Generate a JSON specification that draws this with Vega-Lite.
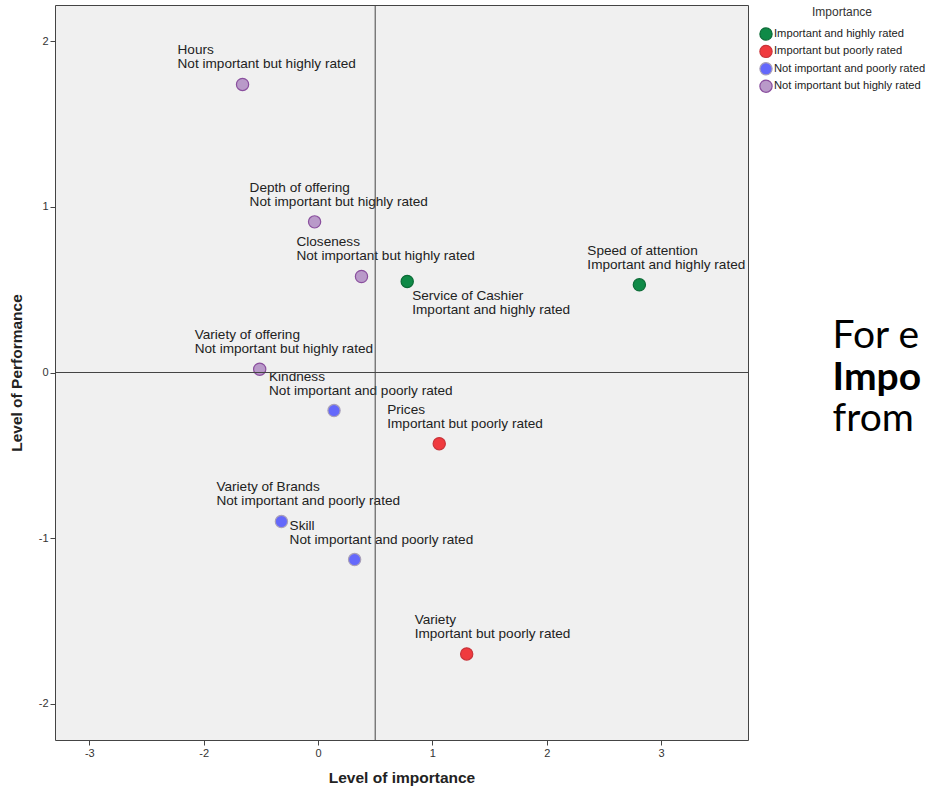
{
  "$schema": "https://vega.github.io/schema/vega-lite/v6.json",
  "autosize": {"type": "none"},
  "padding": {"left": 55, "top": 5, "right": 182, "bottom": 49},
  "width": 693,
  "height": 735,
  "background": "white",
  "config": {
    "view": {"fill": "#f0f0f0", "stroke": "#444444", "strokeWidth": 1},
    "font": "Liberation Sans",
    "axis": {
      "grid": false, "domain": false, "tickColor": "#444444", "tickSize": 5,
      "labelFont": "Liberation Sans", "labelFontSize": 11, "labelColor": "#333333",
      "titleFont": "Liberation Sans", "titleFontSize": 15.5, "titleFontWeight": "bold", "titleColor": "#222222"
    }
  },
  "datasets": {
    "points": [
      {"name": "Hours", "category": "Not important but highly rated", "importance": -0.66, "performance": 1.74},
      {"name": "Depth of offering", "category": "Not important but highly rated", "importance": -0.03, "performance": 0.91},
      {"name": "Closeness", "category": "Not important but highly rated", "importance": 0.38, "performance": 0.58},
      {"name": "Service of Cashier", "category": "Important and highly rated", "importance": 0.78, "performance": 0.55},
      {"name": "Speed of attention", "category": "Important and highly rated", "importance": 2.81, "performance": 0.53},
      {"name": "Variety of offering", "category": "Not important but highly rated", "importance": -0.51, "performance": 0.02},
      {"name": "Kindness", "category": "Not important and poorly rated", "importance": 0.14, "performance": -0.23},
      {"name": "Prices", "category": "Important but poorly rated", "importance": 1.06, "performance": -0.43},
      {"name": "Variety of Brands", "category": "Not important and poorly rated", "importance": -0.32, "performance": -0.9},
      {"name": "Skill", "category": "Not important and poorly rated", "importance": 0.32, "performance": -1.13},
      {"name": "Variety", "category": "Important but poorly rated", "importance": 1.3, "performance": -1.7}
    ],
    "slide": [
      {"text": "For e", "importance": 4.5, "performance": 0.151, "weight": "normal"},
      {"text": "Impo", "importance": 4.5, "performance": -0.103, "weight": "bold"},
      {"text": "from", "importance": 4.5, "performance": -0.356, "weight": "normal"}
    ],
    "vline": [{"importance": 0.5}],
    "hline": [{"performance": 0}]
  },
  "encoding": {
    "x": {
      "field": "importance", "type": "quantitative",
      "scale": {"domain": [-2.3, 3.76], "nice": false, "zero": false},
      "axis": {"values": [-2, -1, 0, 1, 2, 3], "labelExpr": "datum.value < 0 ? '' + (datum.value - 1) : '' + datum.value", "title": "Level of importance", "titlePadding": 12}
    },
    "y": {
      "field": "performance", "type": "quantitative",
      "scale": {"domain": [-2.22, 2.22], "nice": false, "zero": false},
      "axis": {"values": [-2, -1, 0, 1, 2], "labelExpr": "'' + datum.value", "title": "Level of Performance", "titlePadding": 14}
    }
  },
  "layer": [
    {
      "data": {"name": "points"},
      "mark": {"type": "point", "filled": true, "opacity": 1, "strokeWidth": 1.2, "size": 150},
      "encoding": {
        "color": {
          "field": "category", "type": "nominal",
          "scale": {
            "domain": ["Important and highly rated", "Important but poorly rated", "Not important and poorly rated", "Not important but highly rated"],
            "range": ["#0f8a47", "#f03a3e", "#6468fb", "#b99ac9"]
          },
          "legend": {
            "title": "Importance", "orient": "right", "offset": 9,
            "titleFont": "Liberation Sans", "titleFontSize": 12, "titleFontWeight": "normal", "titleColor": "#333333",
            "titleAnchor": "middle", "titlePadding": 8, "padding": 2,
            "labelFont": "Liberation Sans", "labelFontSize": 11.2, "labelColor": "#222222",
            "symbolType": "circle", "symbolSize": 150, "symbolStrokeWidth": 1.2, "labelOffset": 1, "rowPadding": -0.6
          }
        },
        "stroke": {
          "field": "category", "type": "nominal",
          "scale": {
            "domain": ["Important and highly rated", "Important but poorly rated", "Not important and poorly rated", "Not important but highly rated"],
            "range": ["#0b6b36", "#c9343a", "#a9a0b8", "#8a4f9e"]
          },
          "legend": null
        }
      }
    },
    {
      "data": {"name": "points"},
      "transform": [{"filter": "indexof(datum.category, 'Not') == 0"}],
      "layer": [
        {"mark": {"type": "text", "align": "left", "baseline": "middle", "dx": -65, "dy": -34, "fontSize": 13.6, "color": "#222222"}, "encoding": {"text": {"field": "name"}}},
        {"mark": {"type": "text", "align": "left", "baseline": "middle", "dx": -65, "dy": -20, "fontSize": 13.6, "color": "#222222"}, "encoding": {"text": {"field": "category"}}}
      ]
    },
    {
      "data": {"name": "points"},
      "transform": [{"filter": "indexof(datum.category, 'Important') == 0 && datum.name != 'Service of Cashier'"}],
      "layer": [
        {"mark": {"type": "text", "align": "left", "baseline": "middle", "dx": -52, "dy": -34, "fontSize": 13.6, "color": "#222222"}, "encoding": {"text": {"field": "name"}}},
        {"mark": {"type": "text", "align": "left", "baseline": "middle", "dx": -52, "dy": -20, "fontSize": 13.6, "color": "#222222"}, "encoding": {"text": {"field": "category"}}}
      ]
    },
    {
      "data": {"name": "points"},
      "transform": [{"filter": "datum.name == 'Service of Cashier'"}],
      "layer": [
        {"mark": {"type": "text", "align": "left", "baseline": "middle", "dx": 5, "dy": 15, "fontSize": 13.6, "color": "#222222"}, "encoding": {"text": {"field": "name"}}},
        {"mark": {"type": "text", "align": "left", "baseline": "middle", "dx": 5, "dy": 29, "fontSize": 13.6, "color": "#222222"}, "encoding": {"text": {"field": "category"}}}
      ]
    },
    {"data": {"name": "vline"}, "mark": {"type": "rule", "color": "#444444", "strokeWidth": 1}, "encoding": {"y": null}},
    {"data": {"name": "hline"}, "mark": {"type": "rule", "color": "#444444", "strokeWidth": 1}, "encoding": {"x": null}},
    {
      "data": {"name": "slide"},
      "transform": [{"filter": "datum.weight == 'normal'"}],
      "mark": {"type": "text", "align": "left", "baseline": "alphabetic", "fontSize": 39, "font": "Lato", "color": "#000000", "clip": false},
      "encoding": {"text": {"field": "text"}}
    },
    {
      "data": {"name": "slide"},
      "transform": [{"filter": "datum.weight == 'bold'"}],
      "mark": {"type": "text", "align": "left", "baseline": "alphabetic", "fontSize": 39, "font": "Lato", "fontWeight": "bold", "color": "#000000", "clip": false},
      "encoding": {"text": {"field": "text"}}
    }
  ]
}
